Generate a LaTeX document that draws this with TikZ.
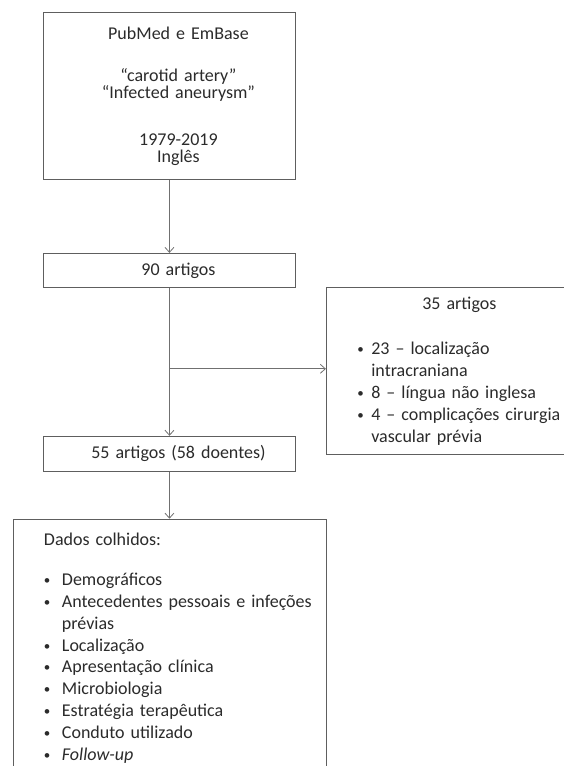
\documentclass[tikz,border=0pt]{standalone}
\usepackage{fontspec}
\setmainfont{Carlito}
\usetikzlibrary{arrows.meta,positioning}
\definecolor{Ink}{HTML}{2B2B2B}
\definecolor{BoxEdge}{HTML}{5E5E5E}
\definecolor{FlowEdge}{HTML}{707070}
\tikzset{
  flow box/.style={draw=BoxEdge, fill=white, line width=0.9pt, text=Ink,
    font=\fontsize{18}{22}\selectfont, align=center, text width=240pt, inner xsep=6pt,
    inner ysep=0pt, minimum height=34pt,
    execute at begin node={\leftskip=18pt plus 1fill\rightskip=0pt plus 1fill\parfillskip=0pt}},
  list box/.style={draw=BoxEdge, fill=white, line width=0.9pt, text=Ink,
    font=\fontsize{18}{21.8}\selectfont, align=left, inner xsep=31pt, inner ysep=0pt},
  flow arrow/.style={-{Straight Barb[length=5pt,width=9pt]}, draw=FlowEdge, line width=0.8pt},
}
\newcommand{\bulletline}[2][18pt]{\makebox[#1][l]{\raisebox{1pt}{\fontsize{13}{13}\selectfont\textbullet}}#2}

\begin{document}
\begin{tikzpicture}[x=1pt,y=-1pt]
  \useasboundingbox (0,0) rectangle (564,766);

  % Main column of the flow, from the search to the included articles.
  \node[flow box, minimum height=167pt, anchor=north west,
    font=\fontsize{18}{17}\selectfont] (search) at (43,12)
    {PubMed e EmBase\\[25pt]“carotid artery”\\“Infected aneurysm”\\[30pt]1979-2019\\Inglês};
  \node[flow box, below=73pt of search] (total) {90 artigos};
  \node[flow box, minimum height=35pt, below=148pt of total] (included) {55 artigos (58 doentes)};

  % Side box with the excluded articles.
  \node[list box, text width=204pt, minimum height=167pt, anchor=north west] (excluded)
    at ([xshift=30pt,yshift=1pt]total.south east)
    {\makebox[\linewidth]{35 artigos}\\[24pt]
     \bulletline[14pt]{23 – localização}\\
     \hspace*{14pt}intracraniana\\
     \bulletline[14pt]{8 – língua não inglesa}\\
     \bulletline[14pt]{4 – complicações cirurgia}\\
     \hspace*{14pt}vascular prévia};

  % Collected data, running past the lower edge.
  \node[list box, text width=251pt, minimum height=258pt, below=47pt of included] (collected)
    {Dados colhidos:\\[18pt]
     \bulletline{Demográficos}\\
     \bulletline{\mbox{Antecedentes pessoais e infeções}}\\
     \hspace*{18pt}prévias\\
     \bulletline{Localização}\\
     \bulletline{Apresentação clínica}\\
     \bulletline{Microbiologia}\\
     \bulletline{Estratégia terapêutica}\\
     \bulletline{Conduto utilizado}\\
     \bulletline{\textit{Follow-up}}};

  % Connectors.
  \coordinate (split) at ([yshift=-81pt]total.south);
  \draw[flow arrow] (search.south) -- (total.north);
  \draw[flow arrow] (total.south) -- (included.north);
  \draw[flow arrow] (split) -- (split -| excluded.west);
  \draw[flow arrow] (included.south) -- (included.south |- collected.north);
\end{tikzpicture}
\end{document}
